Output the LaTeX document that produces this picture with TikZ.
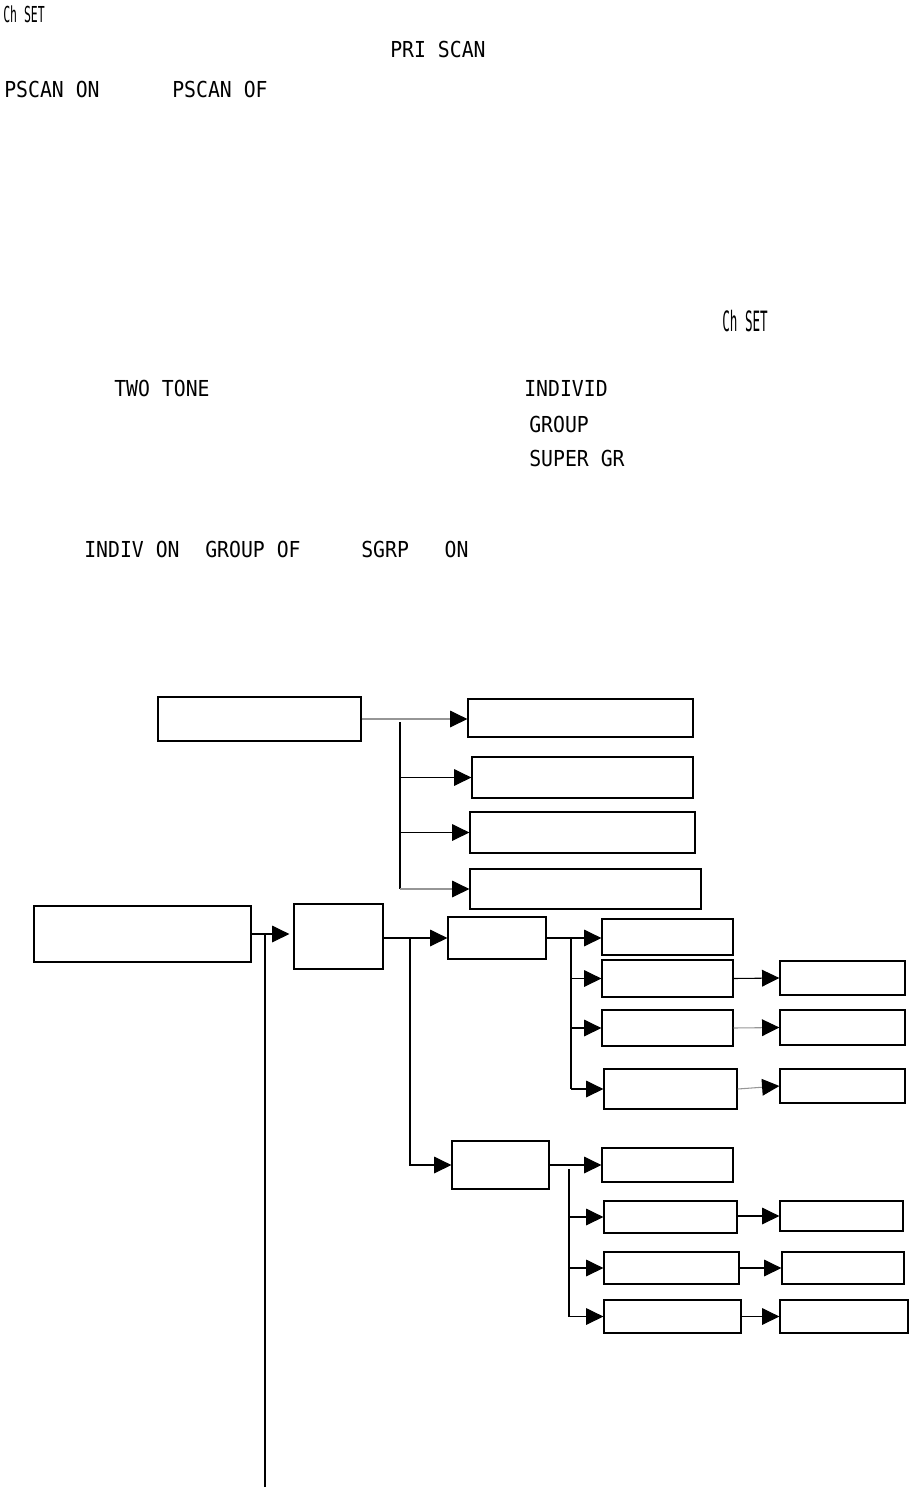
\documentclass[tikz,border=0pt]{standalone}
\usepackage{fontspec}
\usepackage{graphicx}
\usetikzlibrary{arrows.meta,fit}
\newfontfamily\lcdfont[FakeStretch=0.9]{DejaVu Sans Mono}
\definecolor{menuGray}{RGB}{150,150,150}

\begin{document}
\begin{tikzpicture}[
  x=0.75pt, y=-0.75pt,
  lcd/.style={
    anchor=base west,
    inner sep=0pt,
    font=\lcdfont\fontsize{16.5}{19}\selectfont
  },
  box/.style={draw, line width=0.9pt, inner sep=0pt, fit={#1}},
  line/.style={line width=0.8pt},
  arrow/.style={-{Triangle[length=13pt,width=12.5pt,color=black]},line width=0.8pt},
  faint/.style={draw=menuGray}
]
  \useasboundingbox (0,0) rectangle (909,1489);

  \node[lcd] (chsetTop) at (3,22) {\scalebox{0.58}[1]{Ch SET}};
  \node[lcd] (priScan) at (390,57) {PRI SCAN};
  \node[lcd] (pscanOn) at (4,97) {PSCAN ON};
  \node[lcd] (pscanOf) at (172,97) {PSCAN OF};
  \node[lcd,font=\lcdfont\fontsize{21}{24}\selectfont] (chsetMid) at (722,331)
    {\scalebox{0.5}[1]{Ch SET}};
  \node[lcd] (twoTone) at (114,396) {TWO TONE};
  \node[lcd] (individ) at (524,396) {INDIVID};
  \node[lcd] (group) at (529,432) {GROUP};
  \node[lcd] (superGr) at (529,466) {SUPER GR};
  \node[lcd] (indivOn) at (84,557) {INDIV ON};
  \node[lcd] (groupOf) at (205,557) {GROUP OF};
  \node[lcd] (sgrpOn) at (361,557) {SGRP\ \ \ ON};

  \node[box={(158,697) (361,741)}] (root) {};
  \node[box={(468,699) (693,737)}] (sub1) {};
  \node[box={(472,757) (693,798)}] (sub2) {};
  \node[box={(470,812) (695,853)}] (sub3) {};
  \node[box={(470,869) (701,909)}] (sub4) {};

  \node[box={(34,906) (251,962)}] (start) {};
  \node[box={(294,904) (383,969)}] (mid) {};
  \node[box={(448,917) (546,959)}] (upper) {};
  \node[box={(452,1141) (549,1189)}] (lower) {};

  \node[box={(602,919) (733,955)}] (u1) {};
  \node[box={(602,960) (733,997)}] (u2) {};
  \node[box={(602,1010) (733,1046)}] (u3) {};
  \node[box={(604,1069) (737,1109)}] (u4) {};
  \node[box={(780,961) (905,995)}] (uu2) {};
  \node[box={(780,1010) (905,1045)}] (uu3) {};
  \node[box={(780,1069) (905,1103)}] (uu4) {};

  \node[box={(602,1148) (733,1182)}] (l1) {};
  \node[box={(604,1201) (737,1233)}] (l2) {};
  \node[box={(604,1252) (739,1284)}] (l3) {};
  \node[box={(604,1300) (741,1333)}] (l4) {};
  \node[box={(780,1201) (903,1231)}] (ll2) {};
  \node[box={(782,1252) (904,1284)}] (ll3) {};
  \node[box={(780,1300) (908,1333)}] (ll4) {};

  \coordinate (bus1) at (400,722);
  \coordinate (tail) at (265,1487);
  \coordinate (bus2) at (410,938);
  \coordinate (bus3) at (571,938);
  \coordinate (bus4) at (569,1169);

  \draw[arrow,faint] (root.east) -- (sub1.west |- root.east);
  \draw[line] (bus1) -- (bus1 |- sub4.west);
  \draw[arrow] (bus1 |- sub2.west) -- (sub2.west);
  \draw[arrow] (bus1 |- sub3.west) -- (sub3.west);
  \draw[arrow,faint] (bus1 |- sub4.west) -- (sub4.west);

  \draw[arrow,shorten >=3pt] (start.east) -- (mid.west |- start.east);
  \draw[line] (tail) -- (tail |- start.east);
  \draw[arrow] (upper.west -| mid.east) -- (upper.west);
  \draw[arrow] (bus2) |- (lower.west);

  \draw[arrow] (upper.east) -- (upper.east -| u1.west);
  \draw[line] (bus3) -- (bus3 |- u4.west);
  \draw[arrow] (bus3 |- u2.west) -- (u2.west);
  \draw[arrow] (bus3 |- u3.west) -- (u3.west);
  \draw[arrow] (bus3 |- u4.west) -- (u4.west);
  \draw[arrow] (u2.east) -- (uu2.west);
  \draw[arrow,faint] (u3.east) -- (uu3.west);
  \draw[arrow,faint] (u4.east) -- (uu4.west);

  \draw[arrow] (lower.east) -- (lower.east -| l1.west);
  \draw[line] (bus4) -- (bus4 |- l4.west);
  \draw[arrow] (bus4 |- l2.west) -- (l2.west);
  \draw[arrow] (bus4 |- l3.west) -- (l3.west);
  \draw[arrow] (bus4 |- l4.west) -- (l4.west);
  \draw[arrow] (l2.east |- ll2.west) -- (ll2.west);
  \draw[arrow] (l3.east |- ll3.west) -- (ll3.west);
  \draw[arrow] (l4.east |- ll4.west) -- (ll4.west);
\end{tikzpicture}
\end{document}
